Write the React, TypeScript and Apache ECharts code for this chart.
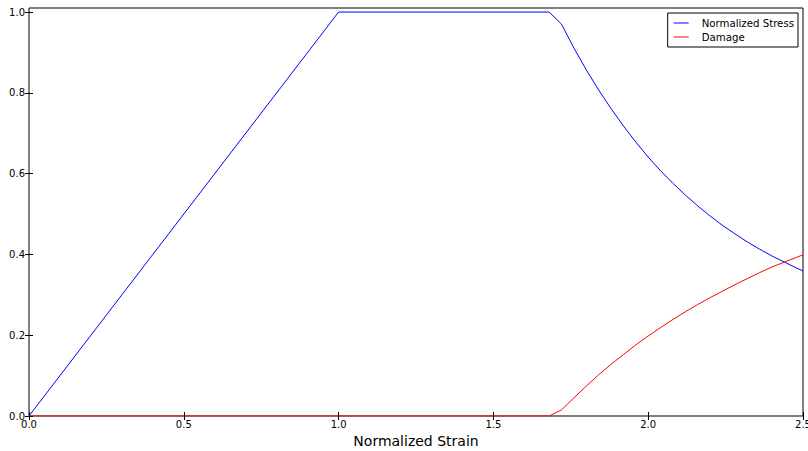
import React, { useEffect, useRef } from "react";
import * as echarts from "echarts";

const strain = [0, 1.0, 1.68, 1.72, 1.76, 1.8, 1.84, 1.88, 1.92, 1.96, 2.0, 2.04, 2.08, 2.12, 2.16, 2.2, 2.24, 2.28, 2.32, 2.36, 2.4, 2.44, 2.48, 2.5];
const stress = [0, 1.0, 1.0, 0.97, 0.911, 0.857, 0.807, 0.761, 0.718, 0.678, 0.641, 0.607, 0.576, 0.547, 0.52, 0.495, 0.472, 0.451, 0.431, 0.413, 0.396, 0.381, 0.366, 0.359];
const damage = [0, 0, 0, 0.015, 0.045, 0.074, 0.102, 0.128, 0.152, 0.176, 0.198, 0.219, 0.239, 0.258, 0.276, 0.293, 0.309, 0.325, 0.34, 0.355, 0.369, 0.381, 0.393, 0.399];
const xTicks = [0, 0.5, 1.0, 1.5, 2.0, 2.5];
const yTicks = [0, 0.2, 0.4, 0.6, 0.8, 1.0];

const FONT = "DejaVu Sans";

export default function App() {
  const ref = useRef<HTMLDivElement>(null);
  useEffect(() => {
    const chart = echarts.init(ref.current!, null, { renderer: "svg" });
    const hiddenAxis = {
      axisLine: { show: false },
      axisLabel: { show: false },
      splitLine: { show: false },
    };
    chart.setOption({
      animation: false,
      backgroundColor: "#fff",
      grid: {
        left: 29,
        right: 5,
        top: 8,
        bottom: 35,
        outerBoundsMode: "none",
        containLabel: false,
        show: true,
        borderColor: "#000",
        borderWidth: 1,
        backgroundColor: "transparent",
      },
      legend: {
        right: 10,
        top: 13,
        orient: "vertical",
        borderColor: "#000",
        borderWidth: 1,
        padding: [4, 4, 4, 6],
        itemGap: 2,
        itemWidth: 15,
        itemHeight: 1,
        icon: "rect",
        textStyle: { fontFamily: FONT, fontSize: 10.2, color: "#000", padding: [0, 0, 0, 8], lineHeight: 12 },
        data: ["Normalized Stress", "Damage"],
      },
      xAxis: [
        {
          type: "value",
          min: 0,
          max: 2.5,
          interval: 0.5,
          name: "Normalized Strain",
          nameLocation: "middle",
          nameGap: 18,
          nameTextStyle: { fontFamily: FONT, fontSize: 14, color: "#000" },
          axisLine: { show: false },
          axisTick: { show: true, inside: true, length: 4, customValues: xTicks, lineStyle: { color: "#000" } },
          axisLabel: {
            fontFamily: FONT,
            fontSize: 10,
            color: "#000",
            margin: 3,
            customValues: xTicks,
            formatter: (v: number) => v.toFixed(1),
          },
          splitLine: { show: false },
        },
        {
          type: "value",
          position: "top",
          min: 0,
          max: 2.5,
          interval: 0.5,
          axisTick: { show: true, inside: true, length: 4, lineStyle: { color: "#000" } },
          ...hiddenAxis,
        },
      ],
      yAxis: [
        {
          type: "value",
          min: 0,
          max: 1.01,
          axisLine: { show: false },
          axisTick: { show: true, inside: true, length: 4, customValues: yTicks, lineStyle: { color: "#000" } },
          axisLabel: {
            fontFamily: FONT,
            fontSize: 10,
            color: "#000",
            margin: 4,
            customValues: yTicks,
            formatter: (v: number) => v.toFixed(1),
          },
          splitLine: { show: false },
        },
        {
          type: "value",
          position: "right",
          min: 0,
          max: 1.01,
          axisTick: { show: true, inside: true, length: 4, customValues: yTicks, lineStyle: { color: "#000" } },
          ...hiddenAxis,
        },
      ],
      series: [
        {
          name: "Normalized Stress",
          type: "line",
          symbol: "none",
          xAxisIndex: 0,
          yAxisIndex: 0,
          lineStyle: { color: "#0000ff", width: 1 },
          itemStyle: { color: "#0000ff" },
          data: strain.map((x, i) => [x, stress[i]]),
          z: 3,
        },
        {
          name: "Damage",
          type: "line",
          symbol: "none",
          xAxisIndex: 0,
          yAxisIndex: 0,
          lineStyle: { color: "#ff0000", width: 1 },
          itemStyle: { color: "#ff0000" },
          data: strain.map((x, i) => [x, damage[i]]),
          z: 2,
        },
      ],
    });
    return () => chart.dispose();
  }, []);
  return <div ref={ref} style={{ width: 808, height: 451, position: "absolute", left: 0, top: 0 }} />;
}
